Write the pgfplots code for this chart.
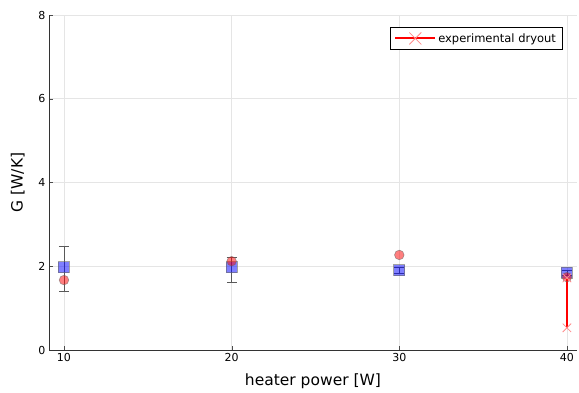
\documentclass[border=0pt]{standalone}
\usepackage{pgfplots}
\pgfplotsset{compat=1.18}
\usepackage{fontspec}
\setmainfont{DejaVu Sans}
\definecolor{gridc}{gray}{0.9}
\definecolor{lred}{rgb}{1,0.55,0.55}
\begin{document}
\begin{tikzpicture}
\begin{axis}[
  scale only axis,
  width=528bp, height=335bp,
  xmin=9.106, xmax=40.6, ymin=0, ymax=8,
  axis x line*=bottom, axis y line*=left,
  axis line style={black!80, line width=0.8pt, -},
  xtick={10,20,30,40}, ytick={0,2,4,6,8},
  grid=major, grid style={gridc, line width=0.6pt},
  major tick length=4bp,
  tick style={black!70},
  tick align=inside,
  /pgf/number format/assume math mode=true,
  ticklabel style={font=\fontsize{11bp}{13bp}\selectfont, black},
  xlabel={heater power [W]}, ylabel={G [W/K]},
  label style={font=\fontsize{15.5bp}{18bp}\selectfont},
  xlabel style={yshift=-5bp},
  ylabel style={yshift=7bp},
  legend style={at={(0.972,0.964)}, anchor=north east, draw=black, line width=0.6pt,
    font=\fontsize{11.5bp}{14bp}\selectfont, inner sep=4bp, row sep=0bp},
  legend cell align=left,
  legend image code/.code={
    \draw[red, line width=2pt] (0bp,0bp) -- (40bp,0bp);
    \draw[lred, line width=0.8pt] (14bp,-6bp) -- (26bp,6bp) (14bp,6bp) -- (26bp,-6bp);
  },
]
% error bars
\addplot[forget plot, draw=none, mark=none,
  error bars/.cd, y dir=both, y explicit,
  error bar style={black!65, line width=0.8pt},
  error mark options={black!65, mark size=5bp, line width=0.8pt, rotate=90}]
  coordinates {
  (10,1.98) += (0,0.50) -= (0,0.57)
  (20,1.98) += (0,0.24) -= (0,0.36)
  (30,1.91) += (0,0.07) -= (0,0.07)
  (40,1.84) += (0,0.06) -= (0,0.06)
};
% blue squares
\addplot[forget plot, only marks, mark=square*, mark size=5.5bp,
  mark options={fill=blue, fill opacity=0.5, draw=black!60, draw opacity=0.6, line width=0.6pt}]
  coordinates {(10,1.98) (20,1.98) (30,1.91) (40,1.84)};
% red circles
\addplot[forget plot, only marks, mark=*, mark size=4.8bp,
  mark options={fill=red, fill opacity=0.5, draw=black!60, draw opacity=0.6, line width=0.6pt}]
  coordinates {(10,1.67) (20,2.12) (30,2.27) (40,1.74)};
% experimental dryout
\addplot[red, line width=2pt, mark=none, draw opacity=1, opacity=1]
  coordinates {(40,1.72) (40,0.53)};
\addlegendentry{experimental dryout}
\addplot[forget plot, only marks, mark=x, mark size=6bp,
  mark options={draw=lred, line width=0.8pt, draw opacity=1}]
  coordinates {(40,1.72) (40,0.53)};
\end{axis}
\path ([xshift=-49bp,yshift=-43bp]current axis.south west) rectangle ([xshift=2bp,yshift=15bp]current axis.north east);
\end{tikzpicture}
\end{document}
